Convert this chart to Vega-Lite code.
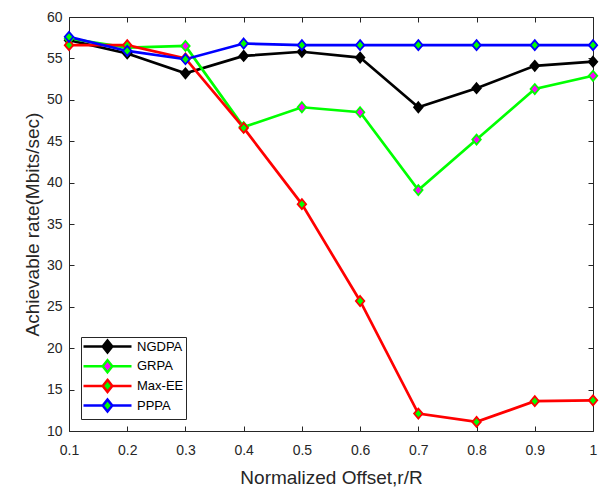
{
  "$schema": "https://vega.github.io/schema/vega-lite/v6.json",
  "width": 524,
  "height": 414,
  "autosize": "none",
  "padding": {"left": 69, "top": 17, "right": 7, "bottom": 56},
  "background": "white",
  "config": {
    "font": "Liberation Sans",
    "view": {"stroke": "#262626", "strokeWidth": 1},
    "axis": {
      "grid": false,
      "domain": false,
      "tickColor": "#262626",
      "tickSize": -5,
      "labelColor": "#262626",
      "labelFontSize": 14,
      "labelFlush": false,
      "titleColor": "#262626",
      "titleFontSize": 19,
      "titleFontWeight": "normal"
    },
    "legend": {
      "orient": "bottom-left",
      "offset": 12,
      "strokeColor": "#262626",
      "fillColor": "white",
      "padding": 2,
      "symbolOffset": 17,
      "labelOffset": 22,
      "rowPadding": -3.3,
      "labelFontSize": 13,
      "labelColor": "black",
      "symbolSize": 144,
      "symbolStrokeWidth": 2.5,
      "symbolOpacity": 1
    }
  },
  "data": {
    "values": [
      {"x": 0.1, "y": 57.2, "series": "NGDPA"},
      {"x": 0.2, "y": 55.6, "series": "NGDPA"},
      {"x": 0.3, "y": 53.2, "series": "NGDPA"},
      {"x": 0.4, "y": 55.3, "series": "NGDPA"},
      {"x": 0.5, "y": 55.8, "series": "NGDPA"},
      {"x": 0.6, "y": 55.1, "series": "NGDPA"},
      {"x": 0.7, "y": 49.1, "series": "NGDPA"},
      {"x": 0.8, "y": 51.4, "series": "NGDPA"},
      {"x": 0.9, "y": 54.1, "series": "NGDPA"},
      {"x": 1.0, "y": 54.6, "series": "NGDPA"},
      {"x": 0.1, "y": 57.4, "series": "GRPA"},
      {"x": 0.2, "y": 56.3, "series": "GRPA"},
      {"x": 0.3, "y": 56.5, "series": "GRPA"},
      {"x": 0.4, "y": 46.7, "series": "GRPA"},
      {"x": 0.5, "y": 49.1, "series": "GRPA"},
      {"x": 0.6, "y": 48.5, "series": "GRPA"},
      {"x": 0.7, "y": 39.1, "series": "GRPA"},
      {"x": 0.8, "y": 45.2, "series": "GRPA"},
      {"x": 0.9, "y": 51.3, "series": "GRPA"},
      {"x": 1.0, "y": 52.9, "series": "GRPA"},
      {"x": 0.1, "y": 56.6, "series": "Max-EE"},
      {"x": 0.2, "y": 56.6, "series": "Max-EE"},
      {"x": 0.3, "y": 55.0, "series": "Max-EE"},
      {"x": 0.4, "y": 46.6, "series": "Max-EE"},
      {"x": 0.5, "y": 37.4, "series": "Max-EE"},
      {"x": 0.6, "y": 25.7, "series": "Max-EE"},
      {"x": 0.7, "y": 12.1, "series": "Max-EE"},
      {"x": 0.8, "y": 11.1, "series": "Max-EE"},
      {"x": 0.9, "y": 13.6, "series": "Max-EE"},
      {"x": 1.0, "y": 13.7, "series": "Max-EE"},
      {"x": 0.1, "y": 57.6, "series": "PPPA"},
      {"x": 0.2, "y": 55.9, "series": "PPPA"},
      {"x": 0.3, "y": 54.9, "series": "PPPA"},
      {"x": 0.4, "y": 56.8, "series": "PPPA"},
      {"x": 0.5, "y": 56.6, "series": "PPPA"},
      {"x": 0.6, "y": 56.6, "series": "PPPA"},
      {"x": 0.7, "y": 56.6, "series": "PPPA"},
      {"x": 0.8, "y": 56.6, "series": "PPPA"},
      {"x": 0.9, "y": 56.6, "series": "PPPA"},
      {"x": 1.0, "y": 56.6, "series": "PPPA"}
    ]
  },
  "layer": [
    {
      "mark": {"type": "line", "strokeWidth": 2.7},
      "encoding": {
        "x": {
          "field": "x", "type": "quantitative",
          "scale": {"domain": [0.1, 1], "nice": false, "zero": false},
          "axis": {"orient": "bottom", "values": [0.1, 0.2, 0.3, 0.4, 0.5, 0.6, 0.7, 0.8, 0.9, 1], "format": ".1~f", "title": "Normalized Offset,r/R", "labelPadding": 17, "titlePadding": 11}
        },
        "y": {
          "field": "y", "type": "quantitative",
          "scale": {"domain": [10, 60], "nice": false, "zero": false},
          "axis": {"orient": "left", "values": [10, 15, 20, 25, 30, 35, 40, 45, 50, 55, 60], "title": "Achievable rate(Mbits/sec)", "labelPadding": 12, "titlePadding": 4}
        },
        "stroke": {
          "field": "series", "type": "nominal",
          "scale": {"domain": ["NGDPA", "GRPA", "Max-EE", "PPPA"], "range": ["#000000", "#00ff00", "#ff0000", "#0000ff"]},
          "legend": {"title": null, "symbolType": "M-4,0L-0.8,0M0.8,0L4,0M0,-1L0.8,0L0,1L-0.8,0Z"}
        }
      }
    },
    {
      "mark": {"type": "point", "shape": "M0,-1L0.85,0L0,1L-0.85,0Z", "size": 100, "strokeWidth": 1.8, "opacity": 1, "filled": false},
      "encoding": {
        "x": {
          "field": "x", "type": "quantitative",
          "scale": {"domain": [0.1, 1], "nice": false, "zero": false},
          "axis": {"orient": "top", "values": [0.1, 0.2, 0.3, 0.4, 0.5, 0.6, 0.7, 0.8, 0.9, 1], "labels": false, "title": null}
        },
        "y": {
          "field": "y", "type": "quantitative",
          "scale": {"domain": [10, 60], "nice": false, "zero": false},
          "axis": {"orient": "right", "values": [10, 15, 20, 25, 30, 35, 40, 45, 50, 55, 60], "labels": false, "title": null}
        },
        "stroke": {
          "field": "series", "type": "nominal",
          "scale": {"domain": ["NGDPA", "GRPA", "Max-EE", "PPPA"], "range": ["#000000", "#00ff00", "#ff0000", "#0000ff"]},
          "legend": {"title": null, "symbolType": "M-4,0L-0.8,0M0.8,0L4,0M0,-1L0.8,0L0,1L-0.8,0Z"}
        },
        "fill": {
          "field": "series", "type": "nominal",
          "scale": {"domain": ["NGDPA", "GRPA", "Max-EE", "PPPA"], "range": ["#000000", "#ff00ff", "#00ff00", "#00ff00"]},
          "legend": {"title": null, "symbolType": "M-4,0L-0.8,0M0.8,0L4,0M0,-1L0.8,0L0,1L-0.8,0Z"}
        }
      }
    }
  ],
  "resolve": {"axis": {"x": "independent", "y": "independent"}}
}
